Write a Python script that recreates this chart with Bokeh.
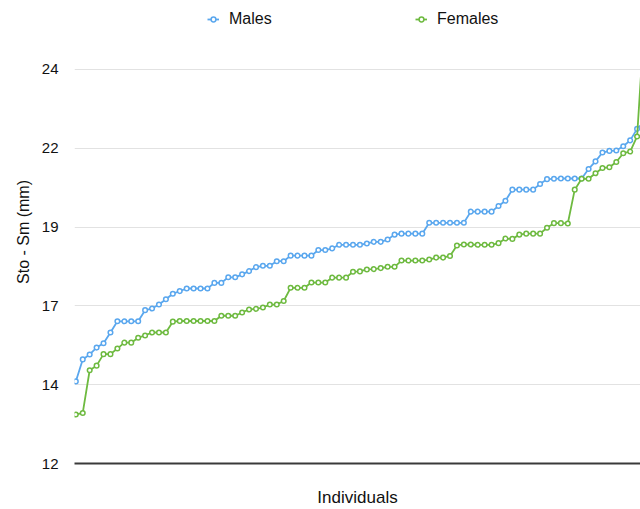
from bokeh.plotting import figure
from bokeh.models import Range1d, FixedTicker, Legend, LegendItem
from bokeh.embed import file_html
from bokeh.resources import INLINE

individuals = list(range(1, 84))

males = [14.50, 15.17, 15.32, 15.53, 15.66, 15.99, 16.33, 16.33, 16.33, 16.33,
         16.67, 16.72, 16.84, 17.00, 17.17, 17.25, 17.33, 17.33, 17.33, 17.33,
         17.50, 17.50, 17.67, 17.67, 17.76, 17.86, 17.98, 18.02, 18.02, 18.16,
         18.16, 18.33, 18.33, 18.33, 18.33, 18.50, 18.50, 18.55, 18.66, 18.66,
         18.66, 18.66, 18.70, 18.75, 18.75, 18.82, 18.97, 19.00, 19.00, 19.00,
         19.00, 19.33, 19.33, 19.33, 19.33, 19.33, 19.33, 19.67, 19.67, 19.67,
         19.67, 19.84, 20.00, 20.34, 20.34, 20.34, 20.34, 20.51, 20.66, 20.67,
         20.68, 20.68, 20.68, 20.68, 20.97, 21.20, 21.47, 21.52, 21.53, 21.66,
         21.84, 22.19, 22.40]

females = [13.49, 13.54, 14.84, 14.98, 15.33, 15.33, 15.50, 15.68, 15.68, 15.83,
           15.90, 15.99, 15.99, 15.99, 16.32, 16.34, 16.34, 16.34, 16.34, 16.34,
           16.34, 16.50, 16.50, 16.50, 16.60, 16.69, 16.71, 16.75, 16.84, 16.84,
           16.95, 17.35, 17.35, 17.35, 17.51, 17.51, 17.51, 17.66, 17.66, 17.66,
           17.84, 17.85, 17.91, 17.92, 17.95, 17.99, 17.99, 18.18, 18.18, 18.18,
           18.18, 18.21, 18.27, 18.27, 18.32, 18.64, 18.67, 18.67, 18.66, 18.66,
           18.66, 18.71, 18.85, 18.84, 18.97, 19.00, 19.00, 19.00, 19.18, 19.32,
           19.32, 19.31, 20.34, 20.67, 20.67, 20.84, 21.00, 21.02, 21.18, 21.45,
           21.50, 21.96, 25.30]

y_ticks = [12.0, 14.4, 16.8, 19.2, 21.6, 24.0]
y_tick_labels = ["12", "14", "17", "19", "22", "24"]

BLUE = "#5AA7EE"
GREEN = "#6EBA40"
FONT = "Liberation Sans"

# frame spans the full top of the page so the legend can sit inside it;
# the value 24 lands on the same row as in the reference
p = figure(width=640, height=509, output_backend="svg", toolbar_location=None,
           x_range=Range1d(0.81, 82.49), y_range=Range1d(12, 26.10),
           min_border_left=74, min_border_right=0, min_border_top=0,
           min_border_bottom=45)
p.outline_line_color = None
p.background_fill_color = "white"
p.border_fill_color = "white"

lm = p.line(individuals, males, line_color=BLUE, line_width=1.8)
sm = p.scatter(individuals, males, marker="circle", size=4.6, line_color=BLUE,
               fill_color="white", line_width=1.5)
lf = p.line(individuals, females, line_color=GREEN, line_width=1.8)
sf = p.scatter(individuals, females, marker="circle", size=4.6, line_color=GREEN,
               fill_color="white", line_width=1.5)

# axes
p.xaxis.ticker = FixedTicker(ticks=[])
p.xaxis.axis_line_color = "#3a3a3a"
p.xaxis.axis_line_width = 2
p.xaxis.major_tick_line_color = None
p.xaxis.minor_tick_line_color = None
p.xaxis.major_tick_out = 0
p.xaxis.axis_label = "Individuals"
p.xaxis.axis_label_text_font = FONT
p.xaxis.axis_label_text_font_size = "17px"
p.xaxis.axis_label_text_font_style = "normal"
p.xaxis.axis_label_text_color = "#111111"
p.xaxis.axis_label_standoff = 24

p.yaxis.ticker = FixedTicker(ticks=y_ticks)
p.yaxis.major_label_overrides = {t: l for t, l in zip(y_ticks, y_tick_labels)}
p.yaxis.axis_line_color = None
p.yaxis.major_tick_line_color = None
p.yaxis.minor_tick_line_color = None
p.yaxis.major_tick_out = 0
p.yaxis.major_label_standoff = 16
p.yaxis.major_label_text_font = FONT
p.yaxis.major_label_text_font_size = "15px"
p.yaxis.major_label_text_color = "#111111"
p.yaxis.axis_label = "Sto - Sm (mm)"
p.yaxis.axis_label_text_font = FONT
p.yaxis.axis_label_text_font_size = "16px"
p.yaxis.axis_label_text_font_style = "normal"
p.yaxis.axis_label_text_color = "#111111"
p.yaxis.axis_label_standoff = 7

p.xgrid.grid_line_color = None
p.ygrid.grid_line_color = "#e2e2e2"
p.ygrid.grid_line_width = 1

legend = Legend(items=[LegendItem(label="Males", renderers=[lm, sm]),
                       LegendItem(label="Females", renderers=[lf, sf])],
                orientation="horizontal", location=(133, 435),
                border_line_color=None, background_fill_alpha=0,
                padding=0, margin=0, spacing=30,
                glyph_width=12, glyph_height=16, label_standoff=10,
                label_width=156, label_text_font=FONT,
                label_text_font_size="16px", label_text_color="#111111")
p.add_layout(legend, "center")

open("out.html", "w").write(file_html(p, INLINE))
